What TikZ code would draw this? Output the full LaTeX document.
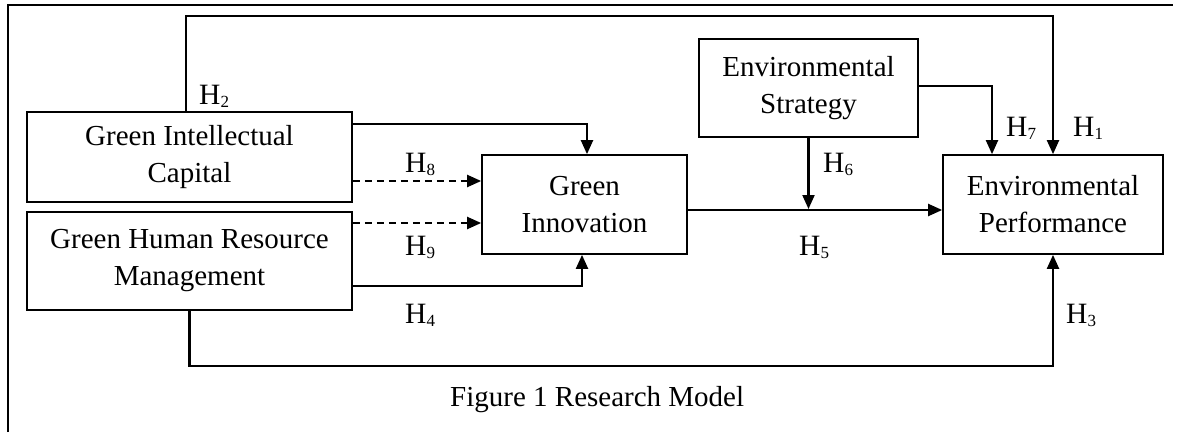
\documentclass[tikz,border=0pt]{standalone}
\usepackage{fontspec}
\setmainfont{Liberation Serif}
\usetikzlibrary{arrows.meta}
\newcommand{\hyp}[1]{H\raisebox{-3pt}{\fontsize{17}{17}\selectfont #1}}

\begin{document}
\begin{tikzpicture}[x=1pt,y=-1pt,
  box/.style={draw,line width=1.7pt,align=center,inner sep=0pt,font=\fontsize{29}{37}\selectfont},
  arr/.style={line width=2.1pt,-{Triangle[length=14pt,width=12pt]}},
  hlab/.style={anchor=base west,inner sep=0pt,font=\fontsize{29.5}{29.5}\selectfont}]
  \useasboundingbox (0,0) rectangle (1178,432);
  \draw[line width=2.2pt] (8,432) -- (8,5) -- (1173,5);
  % boxes
  \node[box,minimum width=325pt,minimum height=90pt] (gic) at (189.5,157) {Green Intellectual\\Capital};
  \node[box,minimum width=325pt,minimum height=98pt] (ghrm) at (189.5,261) {Green Human Resource\\Management};
  \node[box,minimum width=205pt,minimum height=99pt] (gi) at (584.5,204.5) {Green\\Innovation};
  \node[box,minimum width=219pt,minimum height=98pt] (es) at (808.5,88) {Environmental\\Strategy};
  \node[box,minimum width=220pt,minimum height=99pt] (ep) at (1053,204.5) {Environmental\\Performance};
  \coordinate (top) at (0,16);
  \coordinate (low) at (0,366);
  % connectors
  \draw[arr] ([xshift=-3.5pt]gic.north) |- (top -| ep.north) -- (ep.north);
  \draw[arr] (gic.east |- 0,124) -| ([xshift=2.5pt]gi.north);
  \draw[arr,dashed,dash pattern=on 7pt off 5pt] (gic.east |- 0,181) -- (gi.west |- 0,181);
  \draw[arr,dashed,dash pattern=on 7pt off 5pt] (ghrm.east |- 0,223) -- (gi.west |- 0,223);
  \draw[arr] (ghrm.east |- 0,286) -| ([xshift=-2.5pt]gi.south);
  \draw[arr] (ghrm.south) |- (low -| ep.south) -- (ep.south);
  \draw[arr] (gi.east |- 0,210) -- (ep.west |- 0,210);
  \draw[arr] (es.south) -- (es.south |- 0,209);
  \draw[arr] (es.east |- 0,86) -| ([xshift=-61pt]ep.north);
  % labels
  \node[hlab] (h1) at (1073,136) {\hyp{1}};
  \node[hlab] (h2) at (199,104) {\hyp{2}};
  \node[hlab] (h3) at (1066,323) {\hyp{3}};
  \node[hlab] (h4) at (405,323) {\hyp{4}};
  \node[hlab] (h5) at (799,255) {\hyp{5}};
  \node[hlab] (h6) at (823,172) {\hyp{6}};
  \node[hlab] (h7) at (1006,136) {\hyp{7}};
  \node[hlab] (h8) at (405,172) {\hyp{8}};
  \node[hlab] (h9) at (405,255) {\hyp{9}};
  \node[anchor=base west,inner sep=0pt,font=\fontsize{29}{29}\selectfont] (cap) at (450,406) {Figure 1 Research Model};
\end{tikzpicture}
\end{document}
